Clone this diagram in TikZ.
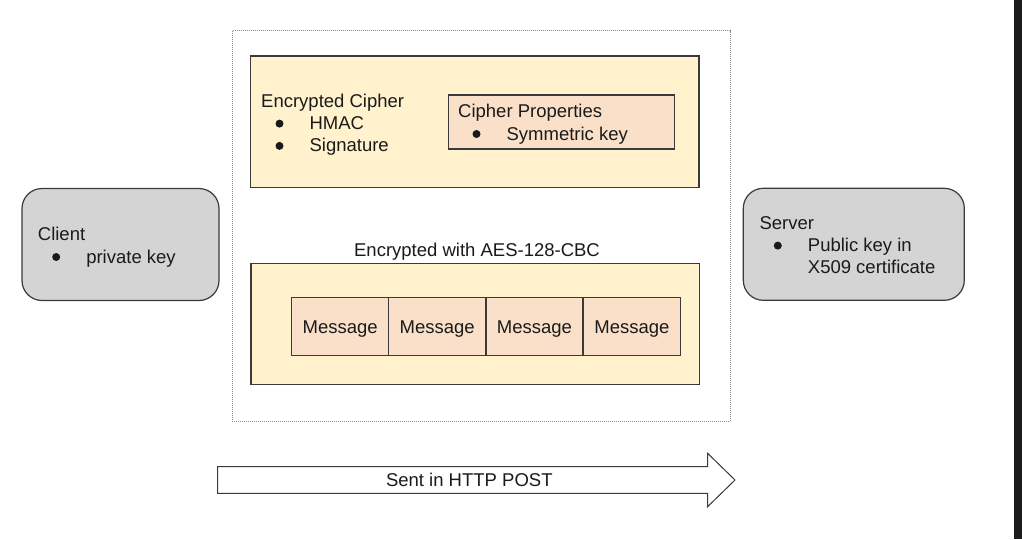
\documentclass[tikz,border=0pt]{standalone}
\usepackage{fontspec}
\setmainfont{Liberation Sans}
\usepackage{tikz}
\usepackage{xcolor}
\definecolor{cipher-yellow}{HTML}{FFF2CC}
\definecolor{cipher-peach}{HTML}{FAE0C8}
\definecolor{end-grey}{HTML}{D4D4D4}
\definecolor{line-grey}{HTML}{3A3A3A}
\definecolor{text-black}{HTML}{1A1A1A}
\definecolor{frame-grey}{HTML}{8C8C8C}
\definecolor{edge-dark}{HTML}{1B1D1D}
\newcommand{\blt}{\tikz[baseline={(0pt,-6pt)}]\fill[text-black] (0pt,0pt) circle (4pt);}
\newcommand{\bitem}{\hspace*{14.3pt}\blt\hspace*{26.1pt}}
\tikzset{
    yellow-box/.style = {draw=line-grey, fill=cipher-yellow, line width=1.2pt, rectangle, inner sep=0pt},
    peach-box/.style = {draw=line-grey, fill=cipher-peach, line width=1.2pt, rectangle, inner sep=0pt},
    grey-box/.style = {draw=line-grey, fill=end-grey, line width=1.2pt, rectangle, rounded corners=20pt, inner sep=0pt},
    msg-box/.style = {peach-box, minimum width=97pt, minimum height=58pt, text height=17pt, text depth=3.8pt},
    list-text/.style = {anchor=base west, inner sep=0pt},
    dotted-frame/.style = {draw=frame-grey, densely dotted, line width=1pt},
    post-arrow/.style = {draw=line-grey, fill=white, line width=1pt},
}
\begin{document}
\begin{tikzpicture}[x=1pt, y=-1pt, every node/.style={font=\fontsize{18.5}{22.3}\selectfont, text=text-black}]
\fill[white] (0,0) rectangle (1022,539);
\useasboundingbox (0,0) rectangle (1022,539);
\fill[edge-dark] (1014,0) rectangle (1022,539);
\draw[dotted-frame] (232.3,30.7) rectangle (730,421);

\node[yellow-box, minimum width=448.3pt, minimum height=131.3pt] (cipher-box) at (474.9,121.7) {};
\node[peach-box, minimum width=226pt, minimum height=54pt] (props-box) at (561.3,122) {};
\node[list-text] (cipher-text) at (261,107.3) {\begin{tabular}[t]{@{}l@{}}Encrypted Cipher\\ \bitem HMAC\\ \bitem Signature\end{tabular}};
\node[list-text] (props-text) at (458,117.7) {\begin{tabular}[t]{@{}l@{}}Cipher Properties\\ \bitem Symmetric key\end{tabular}};

\node[yellow-box, minimum width=448.3pt, minimum height=121pt] (aes-box) at (475.2,323.8) {};
\node[anchor=base, inner sep=0pt] (aes-label) at (477,256.7) {Encrypted with AES-128-CBC};
\foreach \i/\x in {1/340.2, 2/437.2, 3/534.5, 4/632}
    \node[msg-box] (msg-\i) at (\x,326.7) {Message};

\node[grey-box, minimum width=197pt, minimum height=112pt] (client-box) at (120.5,244.5) {};
\node[list-text] (client-text) at (37.7,240.7) {\begin{tabular}[t]{@{}l@{}}Client\\ \bitem private key\end{tabular}};
\node[grey-box, minimum width=221pt, minimum height=112pt] (server-box) at (853.8,244.3) {};
\node[list-text] (server-text) at (759.3,229.3) {\begin{tabular}[t]{@{}l@{}}Server\\ \bitem Public key in\\ \hspace*{48.4pt}X509 certificate\end{tabular}};

\draw[post-arrow] (217.5,466.5) -- (707.6,466.5) -- (707.6,453.3) -- (735,480) -- (707.6,506.7) -- (707.6,493.3) -- (217.5,493.3) -- cycle;
\node[anchor=base, inner sep=0pt] (post) at (469.3,486.7) {Sent in HTTP POST};
\end{tikzpicture}
\end{document}
